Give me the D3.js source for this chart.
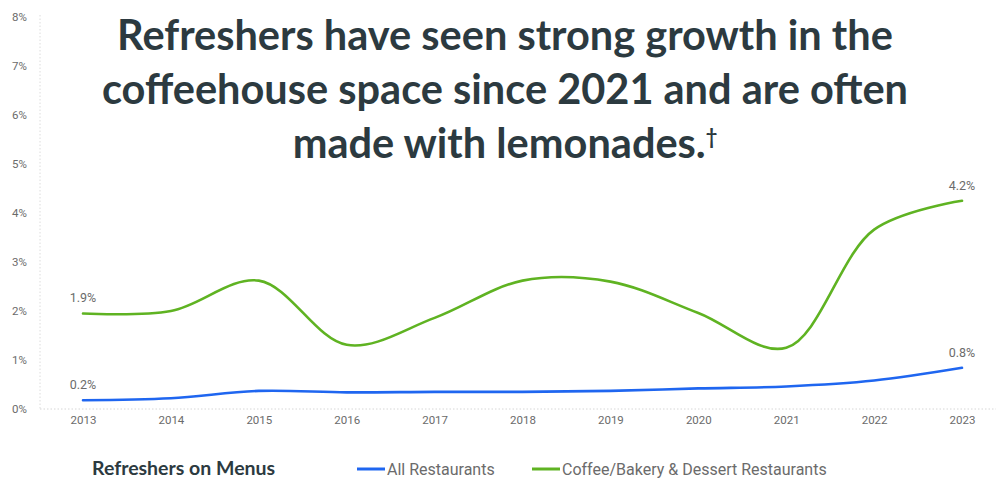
<!DOCTYPE html>
<html>
<head>
<meta charset="utf-8">
<script src="https://cdn.jsdelivr.net/npm/d3@7"></script>
<style>
  html, body { margin: 0; padding: 0; background: #fff; }
  svg { display: block; }
</style>
</head>
<body>
<svg id="chart" width="1000" height="479"></svg>
<script>
const years = [2013, 2014, 2015, 2016, 2017, 2018, 2019, 2020, 2021, 2022, 2023];
const allRestaurants = [0.18, 0.22, 0.37, 0.34, 0.35, 0.35, 0.37, 0.42, 0.46, 0.58, 0.84];
const coffeeBakery = [1.95, 2.00, 2.62, 1.31, 1.86, 2.62, 2.60, 1.96, 1.25, 3.66, 4.25];
const yTicks = [0, 1, 2, 3, 4, 5, 6, 7, 8];
const titleLines = [
  "Refreshers have seen strong growth in the",
  "coffeehouse space since 2021 and are often",
  "made with lemonades."
];
const titleMark = "†";
const legendTitle = "Refreshers on Menus";
const seriesNames = ["All Restaurants", "Coffee/Bakery & Dessert Restaurants"];
const endLabels = [
  { series: 1, idx: 0, text: "1.9%" },
  { series: 0, idx: 0, text: "0.2%" },
  { series: 1, idx: 10, text: "4.2%" },
  { series: 0, idx: 10, text: "0.8%" }
];

const colors = ["#1f66f0", "#5fb322"];
const svg = d3.select("#chart");
const tickFont = "Roboto, 'DejaVu Sans', sans-serif";
const titleFont = "Lato, 'Open Sans', sans-serif";

const x = d3.scalePoint().domain(years).range([83, 962]);
const y = d3.scaleLinear().domain([0, 8]).range([409, 17]);

// gridlines (dotted)
svg.append("line").attr("x1", 40).attr("x2", 40).attr("y1", 15).attr("y2", 409)
  .attr("stroke", "#dcdcdc").attr("stroke-dasharray", "1.5,2").attr("stroke-width", 1);
svg.append("line").attr("x1", 40).attr("x2", 996).attr("y1", y(0)).attr("y2", y(0))
  .attr("stroke", "#d6d6d6").attr("stroke-dasharray", "1.5,2").attr("stroke-width", 1);

// y axis labels
const yAxis = d3.axisLeft(y).tickValues(yTicks).tickFormat(d => d + "%").tickSize(0).tickPadding(0);
const gy = svg.append("g").attr("transform", "translate(27,0)").call(yAxis);
gy.select(".domain").remove();
gy.selectAll("text").attr("fill", "#6b6b6b").style("font-family", tickFont)
  .style("font-size", "11.5px");

// x axis labels
const xAxis = d3.axisBottom(x).tickSize(0).tickPadding(0);
const gx = svg.append("g").attr("transform", "translate(0,416)").call(xAxis);
gx.select(".domain").remove();
gx.selectAll("text").attr("fill", "#6b6b6b").style("font-family", tickFont)
  .style("font-size", "11.5px");

// lines
const series = [allRestaurants, coffeeBakery];
const line = d3.line().x((d, i) => x(years[i])).y(d => y(d)).curve(d3.curveCatmullRom.alpha(0.5));
series.forEach((s, k) => {
  svg.append("path").datum(s).attr("d", line).attr("fill", "none")
    .attr("stroke", colors[k]).attr("stroke-width", 2.6).attr("stroke-linecap", "round");
});

// data labels
endLabels.forEach(l => {
  svg.append("text").attr("x", x(years[l.idx])).attr("y", y(series[l.series][l.idx]) - 11)
    .attr("text-anchor", "middle").attr("fill", "#6b6b6b")
    .style("font-family", tickFont).style("font-size", "12.5px")
    .text(l.text);
});

// title
const baselines = [50, 104, 158];
const tl = svg.append("g").selectAll("text").data(titleLines).join("text")
  .attr("x", 505).attr("y", (d, i) => baselines[i]).attr("text-anchor", "middle")
  .attr("fill", "#2c3a40").style("font-family", titleFont)
  .style("font-weight", 700).style("font-size", "36px");
tl.append("tspan").text(d => d);
tl.filter((d, i) => i === 2).append("tspan").attr("dy", -14).style("font-size", "20px").text(titleMark);
const w0 = tl.nodes()[0].getComputedTextLength();
const fs = 36 * 776 / w0;
tl.style("font-size", fs + "px");

// legend
const legY = 469;
svg.append("text").attr("x", 92).attr("y", legY + 6).attr("fill", "#2c3a40")
  .style("font-family", titleFont).style("font-weight", 700)
  .style("font-size", "19.5px").text(legendTitle);
const legX = [357, 532];
seriesNames.forEach((n, k) => {
  svg.append("line").attr("x1", legX[k]).attr("x2", legX[k] + 28).attr("y1", legY).attr("y2", legY)
    .attr("stroke", colors[k]).attr("stroke-width", 3);
  svg.append("text").attr("x", legX[k] + 30).attr("y", legY + 5.5).attr("fill", "#6b6b6b")
    .style("font-family", tickFont).style("font-size", "16px").text(n);
});
</script>
</body>
</html>
